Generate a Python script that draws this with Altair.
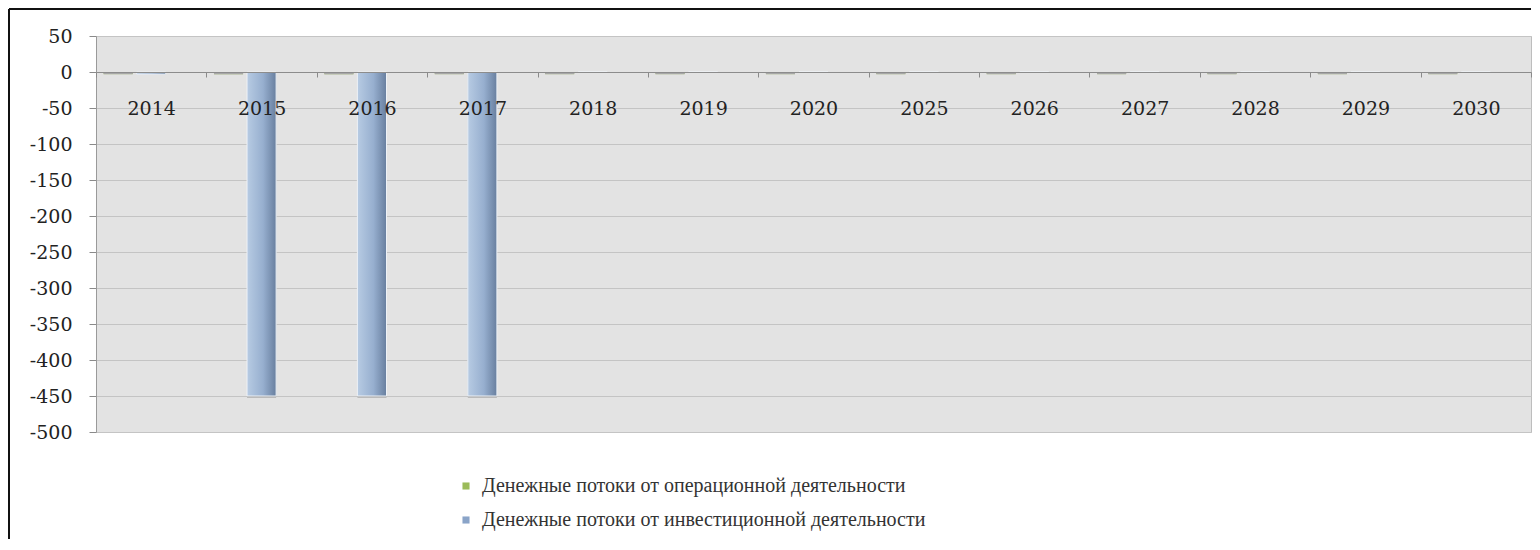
import altair as alt
import pandas as pd

years = ["2014", "2015", "2016", "2017", "2018", "2019", "2020",
         "2025", "2026", "2027", "2028", "2029", "2030"]
ops_values = [-3, -3, -3, -3, -3, -3, -3, -3, -3, -3, -3, -3, -3]
inv_values = [-3, -450, -450, -450, 0, 0, 0, 0, 0, 0, 0, 0, 0]
series_names = ["Денежные потоки от операционной деятельности",
                "Денежные потоки от инвестиционной деятельности"]
series_colors = ["#9bbb59", "#8aa4c8"]
y_ticks = [50, 0, -50, -100, -150, -200, -250, -300, -350, -400, -450, -500]

rows = []
for yr, o, i in zip(years, ops_values, inv_values):
    rows.append({"year": yr, "series": series_names[0], "value": o})
    rows.append({"year": yr, "series": series_names[1], "value": i})
df = pd.DataFrame(rows)

W, H = 1435, 396
SERIF = "DejaVu Serif"

x_enc = alt.X("year:N", sort=years,
              scale=alt.Scale(domain=years, paddingInner=0, paddingOuter=0),
              axis=alt.Axis(orient="bottom", offset=-360, title=None, labelAngle=0,
                            tickBand="extent", tickSize=5, tickColor="#8a8a8a",
                            domainColor="#8c8c8c", domainWidth=1,
                            labelFont=SERIF, labelFontSize=19, labelColor="#222222",
                            labelPadding=22, grid=False, zindex=2))
xo_enc = alt.XOffset("series:N",
                     scale=alt.Scale(domain=series_names + ["_"],
                                     paddingInner=0.12, paddingOuter=0.23))
y_enc = alt.Y("value:Q",
              scale=alt.Scale(domain=[-500, 50], nice=False, zero=False),
              axis=alt.Axis(values=y_ticks, title=None, grid=True,
                            gridColor="#c4c4c4", gridWidth=1,
                            tickSize=7, tickColor="#8a8a8a",
                            domainColor="#9a9a9a",
                            labelExpr="'' + datum.value",
                            labelFont=SERIF, labelFontSize=19, labelColor="#222222",
                            labelPadding=17))

base = alt.Chart(df)

legend_layer = base.mark_bar().encode(
    x=x_enc, xOffset=xo_enc, y=y_enc,
    color=alt.Color("series:N",
                    scale=alt.Scale(domain=series_names, range=series_colors),
                    legend=alt.Legend(orient="none", legendX=360, legendY=440,
                                      title=None, symbolType="square",
                                      symbolSize=50, symbolStrokeWidth=0,
                                      labelFont="Liberation Serif", labelFontSize=20,
                                      labelColor="#333333", rowPadding=14,
                                      labelOffset=6, padding=0,
                                      labelLimit=700)),
)

shadow_layer = base.mark_bar(color="#000000", opacity=0.18, xOffset=4, yOffset=2).encode(
    x=x_enc, xOffset=xo_enc, y=y_enc,
).transform_filter(alt.datum.value < -10)

inv_layer = base.mark_bar(
    fill=alt.Gradient(gradient="linear",
                      stops=[alt.GradientStop(color="#b7cbe3", offset=0),
                             alt.GradientStop(color="#97afcf", offset=0.55),
                             alt.GradientStop(color="#687f9f", offset=1)],
                      x1=0, x2=1, y1=0, y2=0),
    stroke="#eef2f7", strokeWidth=1,
).encode(
    x=x_enc, xOffset=xo_enc, y=y_enc,
).transform_filter(alt.datum.series == series_names[1])

ops_layer = base.mark_bar(color="#a6a6a6").encode(
    x=x_enc, xOffset=xo_enc, y=y_enc,
).transform_filter(alt.datum.series == series_names[0])

frame_df = pd.DataFrame({"k": [0]})
frame_left = alt.Chart(frame_df).mark_rule(color="#111111", strokeWidth=2).encode(
    x=alt.value(-87), y=alt.value(-27), y2=alt.value(503))
frame_top = alt.Chart(frame_df).mark_rule(color="#111111", strokeWidth=2).encode(
    x=alt.value(-87), x2=alt.value(W), y=alt.value(-27))

chart = alt.layer(
    legend_layer, shadow_layer, inv_layer, ops_layer, frame_left, frame_top
).properties(
    width=W, height=H, padding=0
).configure_view(
    fill="#e3e3e3", stroke="#bdbdbd", strokeWidth=1
).configure_axis(
    labelFont=SERIF
)

chart.save("out.html", embed_options={"renderer": "svg", "actions": False})
